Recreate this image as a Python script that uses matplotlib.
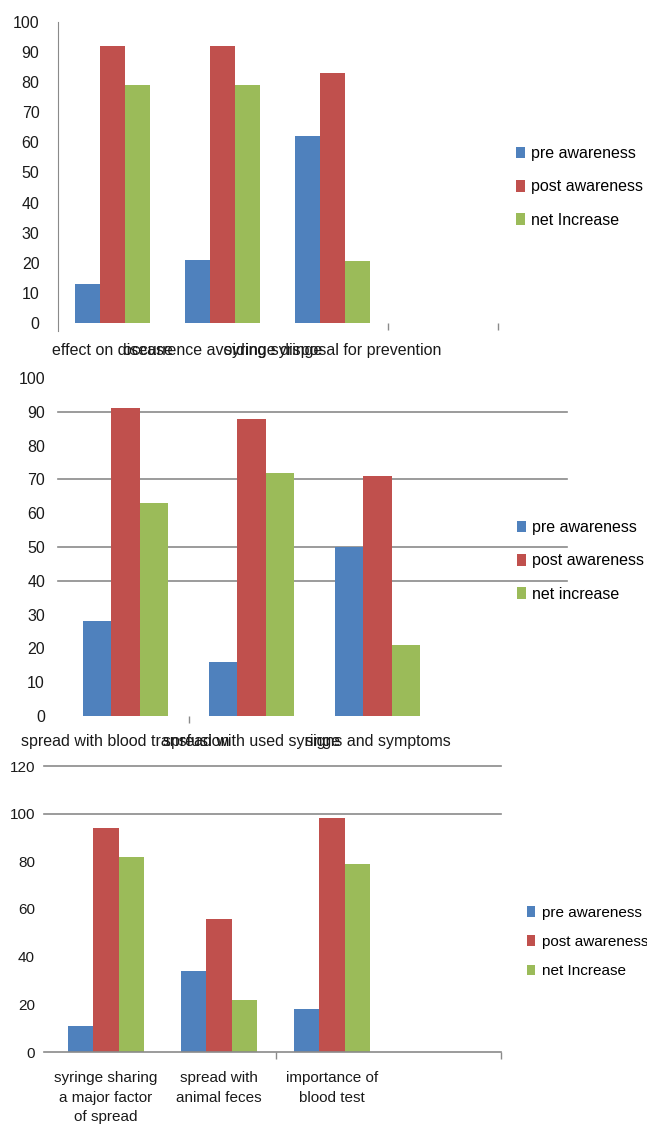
import matplotlib
matplotlib.use('Agg')
import matplotlib.pyplot as plt
import numpy as np

# series shared by the three charts
series_names = ['pre awareness', 'post awareness', 'net increase']
colors = ['#4F81BD', '#C0504D', '#9BBB59']

# chart 1
labels_1 = ['effect on disease', 'occurrence avoiding syringe', 'syringe disposal for prevention', '']
pre_1 = [13, 21, 62]
post_1 = [92, 92, 83]
net_1 = [79, 79, 20.5]
legend_1 = ['pre awareness', 'post awareness', 'net Increase']
yticks_1 = [0, 10, 20, 30, 40, 50, 60, 70, 80, 90, 100]

# chart 2
labels_2 = ['spread with blood transfusion', 'spread with used syringe', 'signs and symptoms', '']
pre_2 = [28, 16, 50]
post_2 = [91, 88, 71]
net_2 = [63, 72, 21]
legend_2 = ['pre awareness', 'post awareness', 'net increase']
yticks_2 = [0, 10, 20, 30, 40, 50, 60, 70, 80, 90, 100]
grid_2 = [90, 70, 50, 40]  # only these lines survive in the scan

# chart 3
labels_3 = ['syringe sharing\na major factor\nof spread', 'spread with\nanimal feces',
            'importance of\nblood test', '']
pre_3 = [11, 34, 18]
post_3 = [94, 56, 98]
net_3 = [82, 22, 79]
legend_3 = ['pre awareness', 'post awareness', 'net Increase']
yticks_3 = [0, 20, 40, 60, 80, 100, 120]
grid_3 = [120, 100]

W, H = 647, 1124
plt.rcParams['font.family'] = ['Liberation Sans', 'DejaVu Sans']

fig = plt.figure(figsize=(W / 100, H / 100), dpi=100)


def px_rect(left, right, top, bottom):
    return [left / W, 1 - bottom / H, (right - left) / W, (bottom - top) / H]


def draw_chart(rect, labels, values, legend_labels, yticks, grid, marks,
               ypad, xpad, fsize, leg_xy, spacing, show_left=False, show_bottom=False,
               linespacing=1.2, overhang=0.0):
    ax = fig.add_axes(rect)
    w = 0.225
    x = np.arange(len(values[0]))
    for i, vals in enumerate(values):
        ax.bar(x + (i - 1) * w, vals, width=w, color=colors[i], label=legend_labels[i], zorder=3)
    ax.set_xlim(-0.5, len(labels) - 0.5)
    ax.set_ylim(yticks[0], yticks[-1])
    ax.set_yticks(yticks)
    ax.set_xticks(np.arange(len(labels)))
    ax.set_xticklabels(labels, fontsize=fsize, color='#1a1a1a', linespacing=linespacing)
    ax.tick_params(axis='y', length=0, pad=ypad, labelsize=fsize, labelcolor='#1a1a1a')
    ax.tick_params(axis='x', which='major', length=0, pad=xpad)
    ax.set_xticks(marks, minor=True)
    ax.tick_params(axis='x', which='minor', length=5, width=1, color='#8a8a8a')
    # the lines in the original start a few pixels left of the plot area
    for g in grid:
        ax.axhline(g, xmin=-overhang, color='#8a8a8a', lw=1.2, zorder=1, clip_on=False)
    for s in ax.spines.values():
        s.set_visible(False)
    if show_left:
        ax.spines['left'].set_visible(True)
        ax.spines['left'].set_color('#8a8a8a')
        ax.spines['left'].set_bounds(yticks[0] - (yticks[-1] - yticks[0]) * 0.025, yticks[-1])
    if show_bottom:
        ax.axhline(yticks[0], xmin=-overhang, color='#8a8a8a', lw=1.2, zorder=4, clip_on=False)
    ax.legend(loc='center left', bbox_to_anchor=(leg_xy[0] / W, 1 - leg_xy[1] / H),
              bbox_transform=fig.transFigure, frameon=False, fontsize=fsize,
              handlelength=0.55, handleheight=0.7, handletextpad=0.4,
              labelspacing=spacing, borderpad=0, borderaxespad=0)
    return ax


draw_chart(px_rect(57.5, 497.5, 22, 323), labels_1, [pre_1, post_1, net_1], legend_1,
           yticks_1, [], [2.5, 3.5], ypad=13, xpad=14.5, fsize=11.5,
           leg_xy=(516, 187), spacing=1.13, show_left=True)

draw_chart(px_rect(62.5, 566.5, 378, 716), labels_2, [pre_2, post_2, net_2], legend_2,
           yticks_2, grid_2, [0.5], ypad=12.6, xpad=13, fsize=11.5,
           leg_xy=(517, 561), spacing=1.13, overhang=5 / 504)

draw_chart(px_rect(49.5, 501.5, 766, 1052), labels_3, [pre_3, post_3, net_3], legend_3,
           yticks_3, grid_3, [1.5, 3.5], ypad=10.4, xpad=14, fsize=11,
           leg_xy=(527, 942), spacing=1.01, show_bottom=True, linespacing=1.47,
           overhang=6 / 452)

fig.savefig('out.png', dpi=100)
